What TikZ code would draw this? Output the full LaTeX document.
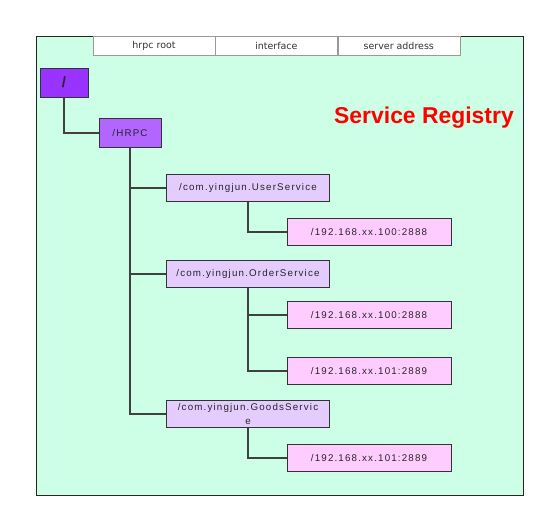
\documentclass[tikz,border=0pt]{standalone}
\usepackage{fontspec}
\setsansfont{Liberation Sans}
\newfontfamily\hdrfont{DejaVu Sans}
\newfontfamily\boxfont[LetterSpace=12]{Liberation Sans}
\usetikzlibrary{positioning}
\definecolor{mint}{RGB}{204,255,230}
\definecolor{rootpurple}{RGB}{153,51,255}
\definecolor{hrpcpurple}{RGB}{178,102,255}
\definecolor{svclilac}{RGB}{229,204,255}
\definecolor{addrpink}{RGB}{255,204,255}

\begin{document}
\begin{tikzpicture}[x=1bp,y=-1bp,
    box/.style={draw=black!80,line width=0.8bp,inner sep=0pt,minimum height=27bp,font=\boxfont\fontsize{9.8}{14}\selectfont,text=black!85},
    svc/.style={box,fill=svclilac,minimum width=163bp,align=center},
    addr/.style={box,fill=addrpink,minimum width=164bp},
    tab/.style={draw=black!40,fill=white,minimum width=122bp,minimum height=19bp,inner sep=0pt,font=\hdrfont\fontsize{9.5}{11}\selectfont,text=black!80},
    link/.style={draw=black!75,line width=1.8bp}]
    \useasboundingbox (0,0) rectangle (548,520);
    \draw[black!85,fill=mint] (36,36) rectangle (523,495);%frame
    \node[tab] (tabroot) at (154,45.5) {hrpc root};
    \node[tab,right=0pt of tabroot] (tabiface) {interface};
    \node[tab,right=0pt of tabiface] (tabaddr) {server address};
    \node[text=red,font=\sffamily\bfseries\fontsize{23}{26}\selectfont] (title) at (424,118) {Service Registry};

    \node[box,fill=rootpurple,minimum width=48bp,minimum height=29bp,font=\sffamily\bfseries\fontsize{15}{16}\selectfont] (root) at (64,82.5) {/};
    \node[box,fill=hrpcpurple,minimum width=62bp,minimum height=29bp] (hrpc) at (130,133) {/HRPC};
    \node[svc] (user) at (248,188) {/com.yingjun.UserService};
    \node[svc] (order) at (248,274) {/com.yingjun.OrderService};
    \node[svc] (goods) at (248,414) {/com.yingjun.GoodsServic\\e};
    \node[addr] (userip) at (369,232) {/192.168.xx.100:2888};
    \node[addr] (orderipa) at (369,315) {/192.168.xx.100:2888};
    \node[addr] (orderipb) at (369,371) {/192.168.xx.101:2889};
    \node[addr] (goodsip) at (369,458) {/192.168.xx.101:2889};

    \draw[link] (root.south) |- (hrpc.west);
    \foreach \s in {user,order,goods} \draw[link] (hrpc.south) |- (\s.west);
    \draw[link] (user.south) |- (userip.west);
    \draw[link] (order.south) |- (orderipa.west);
    \draw[link] (order.south) |- (orderipb.west);
    \draw[link] (goods.south) |- (goodsip.west);
\end{tikzpicture}
\end{document}
